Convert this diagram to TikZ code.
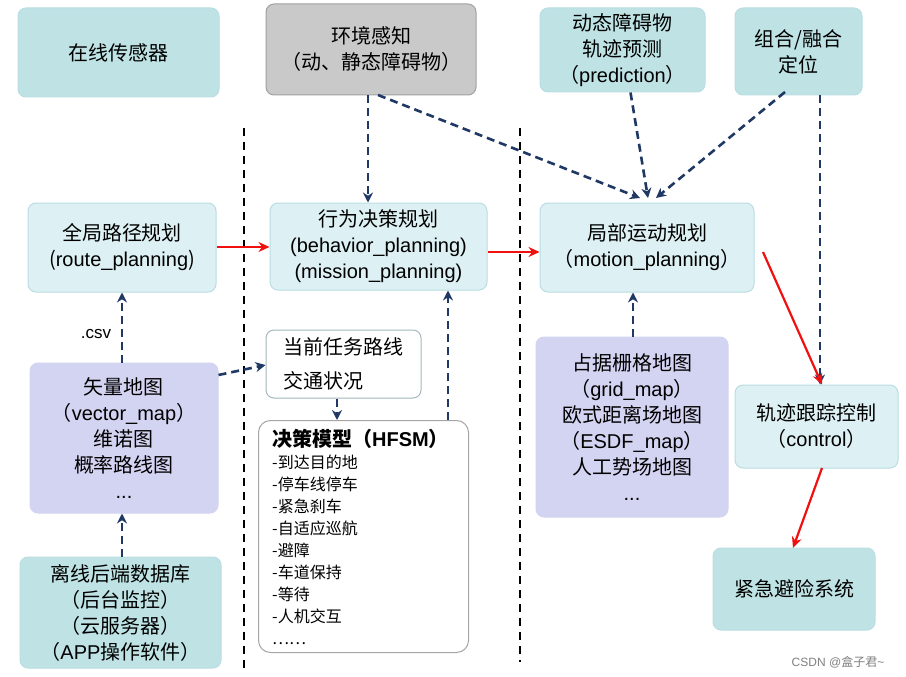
\documentclass[tikz,border=0pt]{standalone}
\usepackage{fontspec}
\setmainfont{Noto Sans CJK SC}
\newfontfamily\latin{Liberation Sans}
\usetikzlibrary{arrows.meta}
\definecolor{lt}{HTML}{DDF0F3}
\definecolor{ltb}{HTML}{B9DDE3}
\definecolor{dk}{HTML}{BFE3E5}
\definecolor{gr}{HTML}{C9C9C9}
\definecolor{lav}{HTML}{D3D3F2}
\definecolor{navy}{HTML}{1F3864}
\definecolor{redc}{HTML}{F01010}
\tikzset{x=1pt,y=-1pt,
 bx/.style={draw=ltb,line width=1pt,rounded corners=8pt,align=center,font=\fontsize{20}{26}\selectfont,inner sep=2pt},
 ltbox/.style={bx,fill=lt},
 dkbox/.style={bx,fill=dk},
 grbox/.style={bx,fill=gr,draw=gr!80!black},
 lavbox/.style={bx,fill=lav,draw=lav},
 whbox/.style={bx,fill=white,draw=gray!70,rounded corners=12pt},
 da/.style={draw=navy,line width=2.6pt,dash pattern=on 8pt off 5pt,-{Stealth[length=10pt,width=10pt]}},
 ra/.style={draw=redc,line width=2.2pt,-{Stealth[length=11pt,width=10pt]}},
 vl/.style={draw=black,line width=2.2pt,dash pattern=on 8pt off 6pt}}
\newcommand{\bxat}[5]{\node[#1,minimum width=#4-#2,minimum height=#5-#3,text width=#4-#2-6] at ({(#2+#4)/2},{(#3+#5)/2})}
\begin{document}
\begin{tikzpicture}
\useasboundingbox (0,0) rectangle (906,677);
\fill[white] (0,0) rectangle (906,677);
\draw[vl] (244,128) -- (244,668);
\draw[vl] (520,128) -- (520,662);
\bxat{dkbox}{18}{8}{219}{97} (s) {在线传感器};
\bxat{grbox}{266}{4}{476}{95} (env) {环境感知\\（动、静态障碍物）};
\bxat{dkbox}{540}{8}{705}{92} (pred) {动态障碍物\\轨迹预测\\（{\latin prediction}）};
\node[dkbox,minimum width=127,minimum height=87] (loc) at (798.5,51.5) {组合/融合\\定位};
\bxat{ltbox}{28}{203}{216}{292} (route) {全局路径规划\\({\latin route\_planning})};
\bxat{ltbox}{270}{203}{487}{290} (beh) {行为决策规划\\{\latin (behavior\_planning)}\\{\latin (mission\_planning)}};
\bxat{ltbox}{540}{203}{754}{292} (mot) {局部运动规划\\（{\latin motion\_planning}）};
\bxat{lavbox}{30}{363}{218}{513} (vec) {矢量地图\\（{\latin vector\_map}）\\维诺图\\概率路线图\\{\latin ...}};
\node[whbox,draw=ltb!60!gray,rounded corners=8pt,minimum width=155,minimum height=68,align=left,font=\fontsize{20}{34}\selectfont] (task) at (343.5,364) {当前任务路线\\交通状况};
\node[whbox,minimum width=210,minimum height=232,anchor=north west,align=left,inner sep=0pt] (hfsm) at (258,420) {};
\node[anchor=north west,align=left,inner sep=0pt,font=\fontsize{16}{22}\selectfont] (hl) at (272,429) {{\fontsize{20}{26}\selectfont\bfseries 决策模型（{\latin HFSM}）}\\-到达目的地\\-停车线停车\\-紧急刹车\\-自适应巡航\\-避障\\-车道保持\\-等待\\-人机交互\\……};
\bxat{lavbox}{536}{337}{728}{517} (grid) {占据栅格地图\\（{\latin grid\_map}）\\欧式距离场地图\\（{\latin ESDF\_map}）\\人工势场地图\\{\latin ...}};
\bxat{ltbox}{735}{385}{898}{468} (ctl) {轨迹跟踪控制\\（{\latin control}）};
\bxat{dkbox}{20}{557}{221}{668} (db) {离线后端数据库\\（后台监控）\\（云服务器）\\（{\latin APP}操作软件）};
\bxat{dkbox}{713}{548}{875}{630} (em) {紧急避险系统};
\coordinate (e1) at (368,95); \coordinate (e2) at (378,95);
\coordinate (m1) at (640,198); \coordinate (m2) at (648,198); \coordinate (m3) at (656,198);
\draw[da] (e1) -- (e1 |- beh.north);
\draw[da] (e2) -- (m1);
\draw[da] (pred.south) ++(8,0) coordinate(p1) (p1) -- (m2);
\coordinate (l1) at (785,92); \coordinate (l2) at (820,95);
\draw[da] (l1) -- (m3);
\draw[da] (l2) -- (l2 |- ctl.north);
\draw[ra] (route.east |- 0,247) -- (beh.west |- 0,247);
\draw[ra] (beh.east |- 0,252) -- (mot.west |- 0,252);
\coordinate (r1) at (763,252); \coordinate (r2) at (822,468); \coordinate (r3) at (793,548);
\draw[ra] (r1) -- (ctl.north -| 822,0);
\draw[ra] (r2) -- (r3);
\draw[da] (vec.north -| 122,0) -- (route.south -| 122,0);
\node[font=\latin\fontsize{17}{20}\selectfont] (csv) at (96,334) {.csv};
\draw[da] (vec.east |- 0,375) -- (task.west |- 0,365);
\draw[da] (task.south -| 337,0) -- (hfsm.north -| 337,0);
\draw[da] (hfsm.north -| 448,0) -- (beh.south -| 448,0);
\draw[da] (db.north -| 122,0) -- (vec.south -| 122,0);
\draw[da] (grid.north -| 633,0) -- (mot.south -| 633,0);
\node[font=\fontsize{12}{14}\selectfont,text=gray] (wm) at (838,662) {{\latin CSDN @}盒子君{\latin\textasciitilde}};
\end{tikzpicture}
\end{document}
